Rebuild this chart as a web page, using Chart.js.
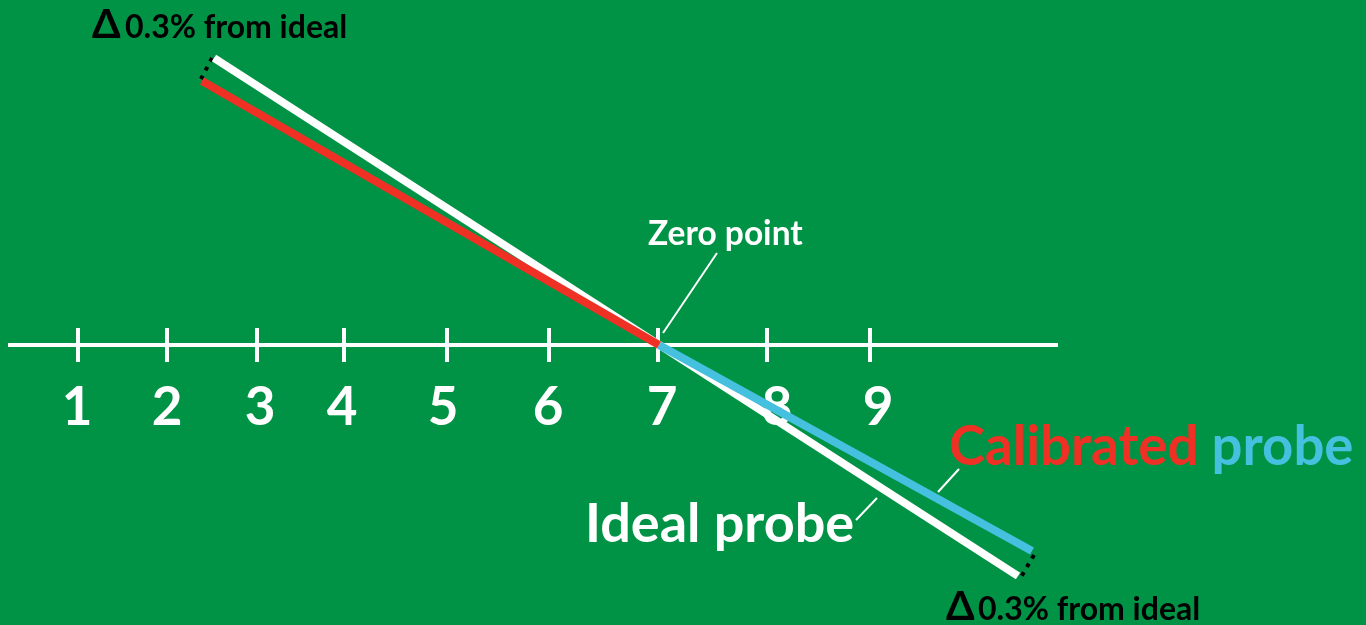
<!DOCTYPE html>
<html>
<head>
<meta charset="utf-8">
<script src="https://cdn.jsdelivr.net/npm/chart.js@4"></script>
<style>
  html, body { margin: 0; padding: 0; background: #009345; }
  #wrap { width: 1366px; height: 625px; position: relative; }
</style>
</head>
<body>
<div id="wrap"><canvas id="chart"></canvas></div>
<script>
// === Data (x: position along the scale, y: offset from the axis line) ===
const tickX = [78, 167, 257, 344, 447, 549, 658, 767, 870];
const tickLabels = ['1', '2', '3', '4', '5', '6', '7', '8', '9'];
const tickLabelX = [77, 167, 260, 342, 443, 548, 662, 777, 878];

const axisLine = [{ x: 8, y: 0 }, { x: 1058, y: 0 }];
const idealProbe = [{ x: 214, y: 287 }, { x: 1018, y: -231 }];
const calibratedLow = [{ x: 202, y: 264 }, { x: 659, y: 0 }];
const calibratedHigh = [{ x: 659, y: 0 }, { x: 1032, y: -206 }];
const gapTop = [{ x: 212, y: 287 }, { x: 201, y: 266 }];
const gapBottom = [{ x: 1034, y: -210 }, { x: 1021, y: -232 }];
const zeroLeader = [{ x: 717, y: 92 }, { x: 663, y: 12 }];
const calLeader = [{ x: 959, y: -124 }, { x: 938, y: -147 }];
const idealLeader = [{ x: 877, y: -153 }, { x: 856, y: -175 }];

// === Colours ===
const WHITE = '#ffffff';
const RED = '#ee3124';
const BLUE = '#45c1df';
const FONT = 'Lato, "Noto Sans", sans-serif';

const seg = (data, color, width, order, extra = {}) => Object.assign({
    data,
    borderColor: color,
    borderWidth: width,
    showLine: true,
    pointRadius: 0,
    fill: false,
    order
}, extra);

// labels painted through the scales
const labelsPlugin = {
    id: 'labels',
    beforeDatasetsDraw(chart) {
        const { ctx, scales: { x, y } } = chart;
        ctx.save();
        ctx.fillStyle = WHITE;
        ctx.font = `700 53px ${FONT}`;
        ctx.textAlign = 'center';
        ctx.textBaseline = 'alphabetic';
        tickLabels.forEach((t, i) => {
            ctx.fillText(t, x.getPixelForValue(tickLabelX[i]), y.getPixelForValue(-80));
        });
        ctx.restore();
    },
    afterDatasetsDraw(chart) {
        const { ctx, scales: { x, y } } = chart;
        const put = (text, vx, vy, size, color) => {
            ctx.font = `700 ${size}px ${FONT}`;
            ctx.fillStyle = color;
            ctx.fillText(text, x.getPixelForValue(vx), y.getPixelForValue(vy));
            return ctx.measureText(text).width;
        };
        ctx.save();
        ctx.textAlign = 'left';
        ctx.textBaseline = 'alphabetic';

        put('Zero point', 648, 100, 33.5, WHITE);
        put('Ideal probe', 585, -197, 54, WHITE);

        const w = put('Calibrated ', 949, -120, 54.5, RED);
        ctx.font = `700 54.5px ${FONT}`;
        ctx.fillStyle = BLUE;
        ctx.fillText('probe', x.getPixelForValue(949) + w, y.getPixelForValue(-120));

        // delta sign a little larger than the text, as in the original
        put('Δ', 92, 307, 41, '#000000');
        put('0.3% from ideal', 125, 307, 32, '#000000');
        put('Δ', 946, -275, 41, '#000000');
        put('0.3% from ideal', 978, -275, 32, '#000000');
        ctx.restore();
    }
};

new Chart(document.getElementById('chart'), {
    type: 'scatter',
    data: {
        datasets: [
            seg(calibratedLow, RED, 8, 0),
            seg(calibratedHigh, BLUE, 8, 1),
            seg(idealProbe, WHITE, 8, 2),
            seg(gapTop, '#000000', 4, 3, { borderDash: [4, 6] }),
            seg(gapBottom, '#000000', 4, 3, { borderDash: [4, 6] }),
            seg(zeroLeader, WHITE, 2, 4),
            seg(calLeader, WHITE, 2, 4),
            seg(idealLeader, WHITE, 2, 4),
            {
                data: tickX.map(v => ({ x: v, y: 0 })),
                showLine: false,
                pointStyle: 'line',
                pointRotation: 90,
                pointRadius: 17,
                pointBorderWidth: 4,
                pointBorderColor: WHITE,
                borderColor: WHITE,
                order: 5
            },
            seg(axisLine, WHITE, 4, 6)
        ]
    },
    options: {
        responsive: true,
        maintainAspectRatio: false,
        animation: false,
        layout: { padding: 0, autoPadding: false },
        scales: {
            x: { type: 'linear', min: 0, max: 1366, display: false },
            y: { type: 'linear', min: -280, max: 345, display: false }
        },
        plugins: {
            legend: { display: false },
            tooltip: { enabled: false }
        },
        events: []
    },
    plugins: [labelsPlugin]
});
</script>
</body>
</html>
